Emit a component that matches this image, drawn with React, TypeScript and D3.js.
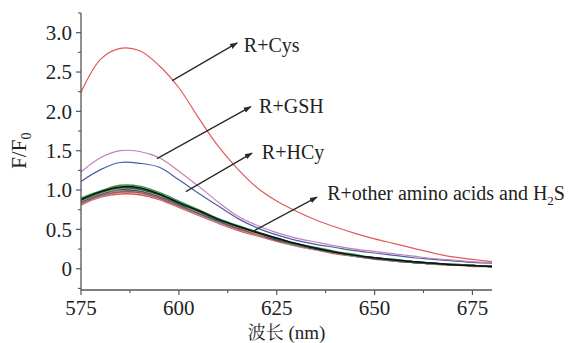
import React from 'react';
import * as d3 from 'd3';

// wavelength grid (nm)
const wavelengths = [575, 580, 585, 590, 595, 600, 605, 610, 615, 620, 625, 630, 635, 640, 645, 650, 655, 660, 665, 670, 675, 680];

const cys = [2.24, 2.66, 2.80, 2.77, 2.58, 2.30, 1.92, 1.56, 1.27, 1.03, 0.86, 0.73, 0.62, 0.53, 0.45, 0.38, 0.32, 0.26, 0.20, 0.15, 0.12, 0.09];
const gsh = [1.23, 1.41, 1.50, 1.49, 1.41, 1.24, 1.05, 0.85, 0.67, 0.55, 0.46, 0.39, 0.34, 0.29, 0.25, 0.22, 0.19, 0.16, 0.13, 0.11, 0.09, 0.08];
const hcy = [1.11, 1.26, 1.35, 1.34, 1.29, 1.13, 0.96, 0.80, 0.64, 0.52, 0.43, 0.36, 0.31, 0.27, 0.23, 0.20, 0.17, 0.14, 0.12, 0.10, 0.08, 0.07];

// other amino acids and H2S
const other1 = [0.90, 0.99, 1.06, 1.05, 0.97, 0.86, 0.75, 0.64, 0.55, 0.47, 0.39, 0.32, 0.27, 0.22, 0.18, 0.14, 0.12, 0.09, 0.07, 0.06, 0.04, 0.03];
const other2 = [0.87, 0.97, 1.03, 1.01, 0.94, 0.83, 0.73, 0.62, 0.54, 0.46, 0.38, 0.31, 0.26, 0.21, 0.17, 0.14, 0.11, 0.09, 0.07, 0.05, 0.04, 0.03];
const other3 = [0.86, 0.96, 1.02, 1.00, 0.93, 0.83, 0.72, 0.62, 0.53, 0.45, 0.38, 0.31, 0.26, 0.21, 0.17, 0.14, 0.11, 0.09, 0.07, 0.05, 0.04, 0.03];
const other4 = [0.85, 0.95, 1.01, 0.99, 0.92, 0.82, 0.71, 0.61, 0.52, 0.45, 0.37, 0.31, 0.25, 0.21, 0.17, 0.13, 0.11, 0.08, 0.07, 0.05, 0.04, 0.03];
const other5 = [0.84, 0.94, 0.99, 0.98, 0.91, 0.81, 0.70, 0.60, 0.52, 0.44, 0.37, 0.30, 0.25, 0.20, 0.16, 0.13, 0.10, 0.08, 0.06, 0.05, 0.04, 0.03];
const other6 = [0.83, 0.93, 0.98, 0.97, 0.90, 0.80, 0.70, 0.60, 0.51, 0.44, 0.36, 0.30, 0.25, 0.20, 0.16, 0.13, 0.10, 0.08, 0.06, 0.05, 0.04, 0.03];
const other7 = [0.82, 0.92, 0.97, 0.96, 0.89, 0.79, 0.69, 0.59, 0.50, 0.43, 0.36, 0.29, 0.24, 0.20, 0.16, 0.13, 0.10, 0.08, 0.06, 0.05, 0.04, 0.03];
const other8 = [0.81, 0.91, 0.95, 0.94, 0.88, 0.78, 0.68, 0.58, 0.49, 0.42, 0.35, 0.29, 0.24, 0.19, 0.16, 0.12, 0.10, 0.08, 0.06, 0.05, 0.03, 0.03];
const other9 = [0.86, 0.96, 1.03, 1.02, 0.94, 0.84, 0.73, 0.63, 0.54, 0.46, 0.38, 0.31, 0.26, 0.21, 0.17, 0.14, 0.11, 0.09, 0.07, 0.05, 0.04, 0.03];
const other10 = [0.88, 0.98, 1.04, 1.03, 0.95, 0.84, 0.74, 0.63, 0.54, 0.46, 0.39, 0.32, 0.26, 0.21, 0.17, 0.14, 0.11, 0.09, 0.07, 0.05, 0.04, 0.03];

const otherSeries = [other8, other7, other6, other5, other9, other4, other3, other1, other2, other10];
const otherColors = ['#d65454', '#e58aa6', '#8a5a3a', '#8a8a8a', '#49b3c6', '#2e3580', '#cbbb4a', '#3a9a44', '#1e5e58', '#111111'];

const yTicks = [0, 0.5, 1, 1.5, 2, 2.5, 3];
const yMinor = [-0.25, 0.25, 0.75, 1.25, 1.75, 2.25, 2.75, 3.25];
const xTicks = [575, 600, 625, 650, 675];
const xMinor = [587.5, 612.5, 637.5, 662.5];

// arrows in data units: [x0, y0, x1, y1]
const arrows = [
  [598.3, 2.39, 614.9, 2.87],
  [594.4, 1.40, 618.4, 2.06],
  [601.8, 0.98, 618.7, 1.47],
  [618.7, 0.47, 635.3, 0.91],
];

const serifFont = { fontFamily: '"Liberation Serif", serif' };
const cjkFont = { fontFamily: '"Noto Serif CJK SC", "Noto Sans CJK SC", serif' };

export default function App() {
  const x = d3.scaleLinear().domain([575, 680]).range([81, 492]);
  const y = d3.scaleLinear().domain([-0.27, 3.25]).range([290, 13]);

  const line = (vals: number[]) =>
    d3
      .line<number>()
      .x((_, i) => x(wavelengths[i]))
      .y(d => y(d))
      .curve(d3.curveCatmullRom.alpha(0.5))(vals) || '';

  const axisColor = '#555';

  return (
    <svg width={580} height={343} style={{ position: 'absolute', left: 0, top: 0, background: '#fff' }}>
      <defs>
        <marker id="ah" viewBox="0 0 10 10" refX="9" refY="5" markerWidth="8" markerHeight="8" orient="auto" markerUnits="userSpaceOnUse">
          <path d="M0,1.5 L10,5 L0,8.5 Z" fill="#2a2a2a" />
        </marker>
      </defs>

      {/* other amino acids */}
      {otherSeries.map((s, i) => (
        <path key={i} d={line(s)} fill="none" stroke={otherColors[i]} strokeWidth={1.5} />
      ))}
      <path d={line(hcy)} fill="none" stroke="#4a5ea8" strokeWidth={1.2} />
      <path d={line(gsh)} fill="none" stroke="#c67fb8" strokeWidth={1.2} />
      <path d={line(cys)} fill="none" stroke="#e05a5a" strokeWidth={1.2} />

      {/* arrows */}
      {arrows.map((a, i) => (
        <line key={i} x1={x(a[0])} y1={y(a[1])} x2={x(a[2])} y2={y(a[3])} stroke="#2a2a2a" strokeWidth={1.3} markerEnd="url(#ah)" />
      ))}

      {/* annotations */}
      <text x={x(616.6)} y={y(2.75)} style={serifFont} fontSize={20} fill="#222">R+Cys</text>
      <text x={x(620.5)} y={y(1.98)} style={serifFont} fontSize={20} fill="#222">R+GSH</text>
      <text x={x(621.2)} y={y(1.40)} style={serifFont} fontSize={20} fill="#222">R+HCy</text>
      <text x={x(637.9)} y={y(0.87)} style={serifFont} fontSize={20} fill="#222">
        R+other amino acids and H<tspan fontSize={13} dy={5}>2</tspan><tspan dy={-5}>S</tspan>
      </text>

      {/* y axis */}
      <line x1={x(575)} x2={x(575)} y1={y(-0.27)} y2={y(3.25)} stroke={axisColor} strokeWidth={1.3} />
      {yTicks.map(t => (
        <g key={t}>
          <line x1={x(575) - 5} x2={x(575)} y1={y(t)} y2={y(t)} stroke={axisColor} strokeWidth={1.2} />
          <text x={x(575) - 9} y={y(t)} dy="0.35em" textAnchor="end" style={serifFont} fontSize={21} fill="#222">
            {t === 0 ? '0' : t.toFixed(1)}
          </text>
        </g>
      ))}
      {yMinor.map(t => (
        <line key={t} x1={x(575) - 3} x2={x(575)} y1={y(t)} y2={y(t)} stroke={axisColor} strokeWidth={1.1} />
      ))}

      {/* x axis */}
      <line x1={x(575)} x2={x(680)} y1={y(-0.27)} y2={y(-0.27)} stroke={axisColor} strokeWidth={1.3} />
      {xTicks.map(t => (
        <g key={t}>
          <line x1={x(t)} x2={x(t)} y1={y(-0.27)} y2={y(-0.27) + 5} stroke={axisColor} strokeWidth={1.2} />
          <text x={x(t)} y={315} textAnchor="middle" style={serifFont} fontSize={21} fill="#222">
            {t}
          </text>
        </g>
      ))}
      {xMinor.map(t => (
        <line key={t} x1={x(t)} x2={x(t)} y1={y(-0.27)} y2={y(-0.27) + 3} stroke={axisColor} strokeWidth={1.1} />
      ))}

      {/* axis titles */}
      <text x={(x(575) + x(680)) / 2} y={338.5} textAnchor="middle" style={serifFont} fontSize={19} fill="#222">
        <tspan style={cjkFont} fontSize={18}>波长</tspan> (nm)
      </text>
      <text transform={`translate(26,${y(1.5)}) rotate(-90)`} textAnchor="middle" style={serifFont} fontSize={21} fill="#222">
        F/F<tspan fontSize={14} dy={5}>0</tspan>
      </text>
    </svg>
  );
}
